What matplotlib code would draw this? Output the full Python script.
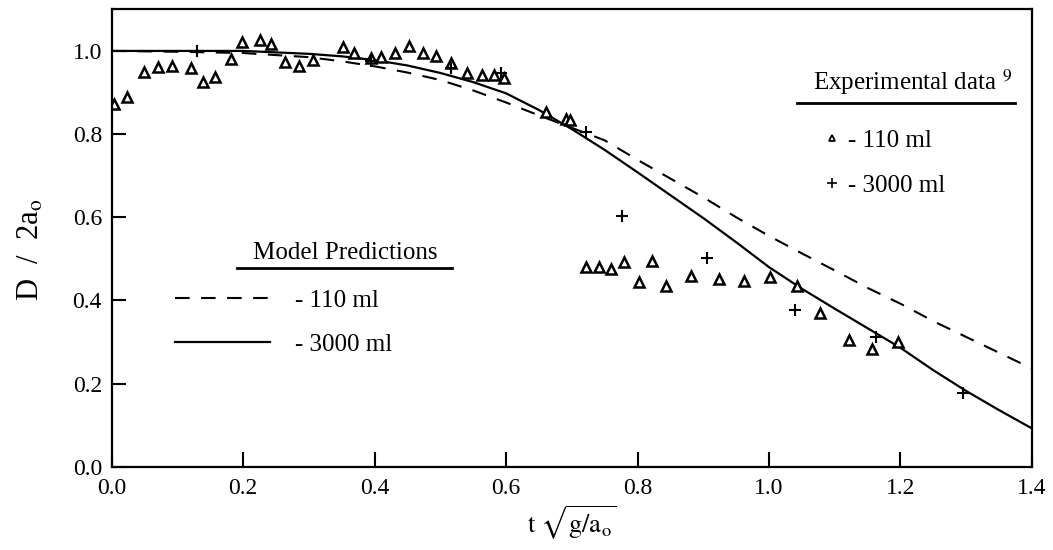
import matplotlib
matplotlib.use("Agg")
import matplotlib.pyplot as plt
from matplotlib.lines import Line2D

plt.rcParams['font.family'] = ['Liberation Serif', 'DejaVu Serif']
plt.rcParams['mathtext.fontset'] = 'stix'

# Model predictions (curves)
model_x = [0.0, 0.1, 0.2, 0.3, 0.35, 0.4, 0.45, 0.5, 0.55, 0.6, 0.65, 0.7, 0.75,
           0.8, 0.85, 0.9, 0.95, 1.0, 1.05, 1.1, 1.15, 1.2, 1.25, 1.3, 1.35, 1.4]
model_110 = [1.0, 0.998, 0.995, 0.985, 0.975, 0.963, 0.948, 0.93, 0.905, 0.876, 0.845,
             0.815, 0.785, 0.738, 0.693, 0.648, 0.600, 0.555, 0.513, 0.472, 0.430,
             0.392, 0.350, 0.312, 0.274, 0.236]
model_3000 = [1.0, 1.0, 1.0, 0.993, 0.987, 0.978, 0.965, 0.947, 0.925, 0.898, 0.858,
              0.812, 0.762, 0.708, 0.653, 0.598, 0.540, 0.480, 0.428, 0.380, 0.333,
              0.286, 0.232, 0.182, 0.136, 0.092]

# Experimental data - 110 ml (triangles)
exp110_x = [0.003, 0.023, 0.050, 0.071, 0.092, 0.121, 0.139, 0.157, 0.181, 0.198,
            0.225, 0.243, 0.264, 0.285, 0.307, 0.352, 0.369, 0.395, 0.410, 0.431,
            0.452, 0.473, 0.493, 0.516, 0.540, 0.563, 0.582, 0.597, 0.661, 0.691,
            0.698, 0.721, 0.741, 0.760, 0.779, 0.803, 0.822, 0.843, 0.882, 0.924,
            0.962, 1.001, 1.042, 1.078, 1.122, 1.157, 1.196]
exp110_y = [0.872, 0.888, 0.950, 0.962, 0.964, 0.960, 0.926, 0.938, 0.980, 1.022,
            1.026, 1.016, 0.974, 0.963, 0.978, 1.010, 0.994, 0.982, 0.985, 0.996,
            1.012, 0.996, 0.988, 0.970, 0.948, 0.942, 0.942, 0.934, 0.854, 0.836,
            0.834, 0.480, 0.480, 0.476, 0.492, 0.444, 0.494, 0.434, 0.458, 0.452,
            0.446, 0.456, 0.434, 0.370, 0.304, 0.282, 0.299]

# Experimental data - 3000 ml (pluses)
exp3000_x = [0.130, 0.395, 0.516, 0.592, 0.722, 0.777, 0.906, 1.039, 1.163, 1.295]
exp3000_y = [1.000, 0.975, 0.958, 0.946, 0.804, 0.604, 0.502, 0.378, 0.311, 0.178]

x_ticks = [0.0, 0.2, 0.4, 0.6, 0.8, 1.0, 1.2, 1.4]
y_ticks = [0.0, 0.2, 0.4, 0.6, 0.8, 1.0]

fig = plt.figure(figsize=(10.53, 5.5), dpi=100)
ax = fig.add_axes([0.106, 0.1515, 0.874, 0.8315])

l110, = ax.plot(model_x, model_110, color='black', lw=1.5, dashes=(7, 5.5))
l3000, = ax.plot(model_x, model_3000, color='black', lw=1.6)
ax.plot(exp110_x, exp110_y, linestyle='none', marker='^', ms=7.5,
        mfc='white', mec='black', mew=1.8)
ax.plot(exp3000_x, exp3000_y, linestyle='none', marker='+', ms=9,
        color='black', mew=1.5)

ax.set_xlim(0, 1.4)
ax.set_ylim(0, 1.1)
ax.set_xticks(x_ticks)
ax.set_yticks(y_ticks)
ax.set_xticklabels([f"{v:.1f}" for v in x_ticks])
ax.set_yticklabels([f"{v:.1f}" for v in y_ticks])
ax.tick_params(direction='in', length=10, width=1.5, labelsize=17, pad=7)
ax.tick_params(axis='x', length=11, pad=8)
for s in ax.spines.values():
    s.set_linewidth(1.6)

ax.set_xlabel(r'$\mathrm{t}\ \sqrt{\mathrm{g/a_o}}$', fontsize=19, labelpad=4)
ax.set_ylabel(r'D  /  2a$_\mathrm{o}$', fontsize=22)
ax.yaxis.set_label_coords(-0.072, 0.475)

# Model predictions legend
ax.text(0.254, 0.467, 'Model Predictions', transform=ax.transAxes, fontsize=18,
        ha='center', va='center')
ax.add_line(Line2D([0.136, 0.370], [0.434, 0.434], transform=ax.transAxes,
                   color='black', lw=2))
leg1 = ax.legend([l110, l3000], ['- 110 ml', '- 3000 ml'], loc='upper left',
                 bbox_to_anchor=(0.069, 0.388), frameon=False, fontsize=18,
                 handlelength=3.8, handletextpad=1.0, labelspacing=0.88,
                 borderpad=0, borderaxespad=0)
ax.add_artist(leg1)

# Experimental data legend
ax.text(0.870, 0.841, r'Experimental data $^{9}$', transform=ax.transAxes,
        fontsize=18, ha='center', va='center')
ax.add_line(Line2D([0.745, 0.982], [0.795, 0.795], transform=ax.transAxes,
                   color='black', lw=2))
h_tri = Line2D([], [], linestyle='none', marker='^', ms=5, mfc='white',
               mec='black', mew=1.3)
h_plus = Line2D([], [], linestyle='none', marker='+', ms=7, color='black', mew=1.2)
leg2 = ax.legend([h_tri, h_plus], ['- 110 ml', '- 3000 ml'], loc='upper left',
                 bbox_to_anchor=(0.772, 0.737), frameon=False, fontsize=18,
                 handlelength=0.8, handletextpad=0.25, labelspacing=0.88,
                 borderpad=0, borderaxespad=0)

fig.savefig('out.png', dpi=100)
